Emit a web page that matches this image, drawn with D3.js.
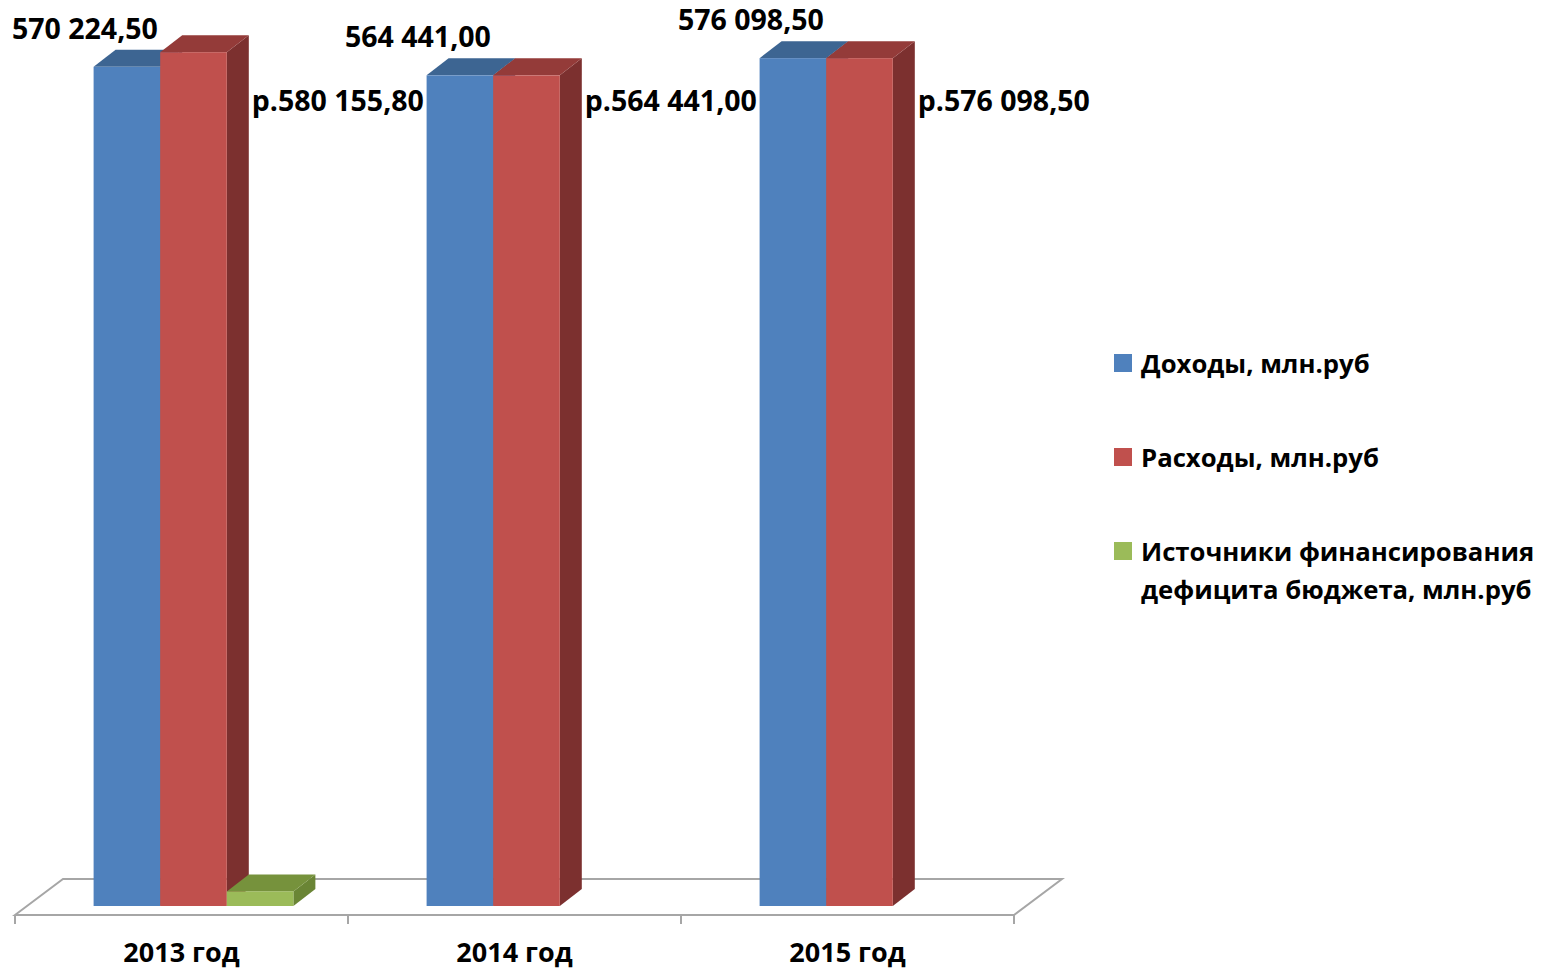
<!DOCTYPE html>
<html><head><meta charset="utf-8">
<script src="https://cdn.jsdelivr.net/npm/d3@7"></script>
<style>
html,body{margin:0;padding:0;background:#fff;overflow:hidden;}
svg text{font-family:"Open Sans","DejaVu Sans",sans-serif;font-weight:700;fill:#000;}
</style></head>
<body><svg id="chart" width="1547" height="971"></svg>
<script>
const categories = ["2013 год", "2014 год", "2015 год"];
const seriesNames = ["Доходы, млн.руб", "Расходы, млн.руб", "Источники финансирования дефицита бюджета, млн.руб"];
const incomeValues = [570224.50, 564441.00, 576098.50];
const expenseValues = [580155.80, 564441.00, 576098.50];
const deficitValues = [9931.30, 0, 0];
const incomeLabels = ["570 224,50", "564 441,00", "576 098,50"];
const expenseLabels = ["р.580 155,80", "р.564 441,00", "р.576 098,50"];
const legendLines = [["Доходы, млн.руб"], ["Расходы, млн.руб"], ["Источники финансирования", "дефицита бюджета, млн.руб"]];

const colors = [
  {front:"#4F81BD", top:"#3D6592", side:"#365A85"},
  {front:"#C0504D", top:"#943B39", side:"#7C302F"},
  {front:"#9BBB59", top:"#76923C", side:"#6A8535"}
];
const seriesValues = [incomeValues, expenseValues, deficitValues];

const svg = d3.select("#chart");

// floor geometry
const floorFrontY = 915, floorDX = 48, floorDY = -36;
const x0 = d3.scaleBand().domain(categories).range([15, 1014]).paddingInner(0).paddingOuter(0);
// bar plane sits a quarter of the way into the floor depth
const barShiftX = floorDX * 0.25;
const baseY = floorFrontY + floorDY * 0.25;
const xb = d3.scaleBand().domain(categories).range([15 + barShiftX, 1014 + barShiftX]);
const x1 = d3.scaleBand().domain(d3.range(3)).range([0, xb.bandwidth()]).paddingInner(0).paddingOuter(1);
const y = d3.scaleLinear().domain([0, 600000]).range([baseY, baseY - 883]);
const dX = 22, dY = -17;

// floor
const fl = 15, fr = 1014;
svg.append("path")
  .attr("d", `M${fl},${floorFrontY} L${fl+floorDX},${floorFrontY+floorDY} L${fr+floorDX},${floorFrontY+floorDY} L${fr},${floorFrontY} Z`)
  .attr("fill", "none").attr("stroke", "#A6A6A6").attr("stroke-width", 2);
// ticks
const tickXs = categories.map(c => x0(c)).concat([fr]);
svg.selectAll("line.tick").data(tickXs).enter().append("line")
  .attr("x1", d => d).attr("x2", d => d)
  .attr("y1", floorFrontY).attr("y2", floorFrontY + 9)
  .attr("stroke", "#A6A6A6").attr("stroke-width", 2);

// bars (draw left to right)
const bars = [];
categories.forEach((c, ci) => {
  seriesValues.forEach((vals, si) => {
    const v = vals[ci];
    if (!v) return;
    bars.push({c, ci, si, v});
  });
});
const g = svg.append("g");
bars.forEach(b => {
  const xl = xb(b.c) + x1(b.si), xr = xl + x1.bandwidth();
  const yt = y(b.v), yb = y(0);
  const col = colors[b.si];
  g.append("path").attr("d", `M${xr},${yb} L${xr+dX},${yb+dY} L${xr+dX},${yt+dY} L${xr},${yt} Z`).attr("fill", col.side);
  g.append("path").attr("d", `M${xl},${yt} L${xl+dX},${yt+dY} L${xr+dX},${yt+dY} L${xr},${yt} Z`).attr("fill", col.top);
  g.append("rect").attr("x", xl).attr("y", yt).attr("width", xr - xl).attr("height", yb - yt).attr("fill", col.front);
});

// value labels
categories.forEach((c, ci) => {
  const bx = xb(c) + x1(0) + x1.bandwidth() / 2;
  svg.append("text").attr("x", bx + 31).attr("y", y(incomeValues[ci]) + dY - 11)
    .attr("text-anchor", "end").attr("font-size", 28.5).text(incomeLabels[ci]);
  const rx = xb(c) + x1(1) + x1.bandwidth() + dX;
  svg.append("text").attr("x", rx + 3).attr("y", y(600000) + 88)
    .attr("text-anchor", "start").attr("font-size", 28.5).text(expenseLabels[ci]);
});

// category labels
svg.selectAll("text.cat").data(categories).enter().append("text")
  .attr("x", d => x0(d) + x0.bandwidth() / 2).attr("y", 962)
  .attr("text-anchor", "middle").attr("font-size", 27).text(d => d);

// legend
const lg = svg.append("g").attr("transform", "translate(1114,0)");
const legendY = [363, 457, 551];
legendLines.forEach((lines, i) => {
  lg.append("rect").attr("x", 0).attr("y", legendY[i] - 9).attr("width", 18).attr("height", 18).attr("fill", colors[i].front);
  lines.forEach((t, li) => {
    lg.append("text").attr("x", 27).attr("y", legendY[i] + 10 + li * 38)
      .attr("font-size", 25.7).text(t);
  });
});
</script></body></html>
